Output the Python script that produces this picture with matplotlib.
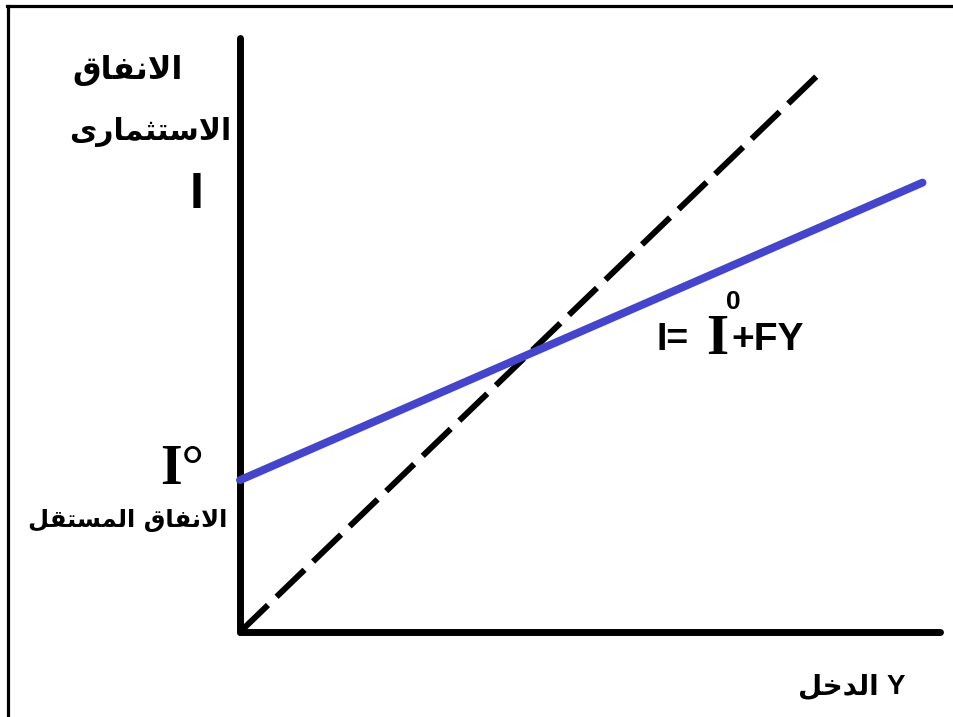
import matplotlib
matplotlib.use("Agg")
import matplotlib.pyplot as plt
from matplotlib.lines import Line2D

# Data (income Y on x, investment I on y, arbitrary units)
y_45 = [0, 8.3]
i_45 = [0, 8.0]
y_inv = [0, 9.75]
i_inv = [2.17, 6.42]

label_top1 = "الانفاق"
label_top2 = "الاستثمارى"
label_auto = "الانفاق المستقل"
label_x = "الدخل"

# small Arabic shaper (matplotlib has no complex text layout)
forms = {
    'ا': ('\uFE8D', '\uFE8E', None, None),
    'ل': ('\uFEDD', '\uFEDE', '\uFEDF', '\uFEE0'),
    'ن': ('\uFEE5', '\uFEE6', '\uFEE7', '\uFEE8'),
    'ف': ('\uFED1', '\uFED2', '\uFED3', '\uFED4'),
    'ق': ('\uFED5', '\uFED6', '\uFED7', '\uFED8'),
    'س': ('\uFEB1', '\uFEB2', '\uFEB3', '\uFEB4'),
    'ت': ('\uFE95', '\uFE96', '\uFE97', '\uFE98'),
    'ث': ('\uFE99', '\uFE9A', '\uFE9B', '\uFE9C'),
    'م': ('\uFEE1', '\uFEE2', '\uFEE3', '\uFEE4'),
    'ر': ('\uFEAD', '\uFEAE', None, None),
    'ى': ('\uFEEF', '\uFEF0', '\uFBE8', '\uFBE9'),
    'د': ('\uFEA9', '\uFEAA', None, None),
    'خ': ('\uFEA5', '\uFEA6', '\uFEA7', '\uFEA8'),
}


def joins_next(c):
    return c in forms and forms[c][2] is not None


def ar(s):
    out = []
    i = 0
    while i < len(s):
        c = s[i]
        if c not in forms:
            out.append(c)
            i += 1
            continue
        prev_j = i > 0 and joins_next(s[i - 1])
        if c == 'ل' and i + 1 < len(s) and s[i + 1] == 'ا':
            out.append('\uFEFC' if prev_j else '\uFEFB')
            i += 2
            continue
        nxt_j = joins_next(c) and i + 1 < len(s) and s[i + 1] in forms
        iso, fin, ini, med = forms[c]
        if prev_j and nxt_j:
            out.append(med)
        elif prev_j:
            out.append(fin)
        elif nxt_j:
            out.append(ini)
        else:
            out.append(iso)
        i += 1
    return ''.join(out)[::-1]


W, H = 954, 717
fig = plt.figure(figsize=(W / 100, H / 100), dpi=100)


def px(x, y):
    return x / W, 1 - y / H


# axes: origin at (240, 632) px
ax = fig.add_axes([240 / W, 85 / H, 700 / W, 594 / H])
ax.set_xlim(0, 10)
ax.set_ylim(0, 8.486)
ax.axis("off")

# axis lines
ax.plot([0, 0], [0, 8.486], color="black", lw=5, solid_capstyle="round", clip_on=False)
ax.plot([0, 10], [0, 0], color="black", lw=5, solid_capstyle="round", clip_on=False)

ax.plot(y_45, i_45, color="black", lw=4.3, dashes=(6.5, 2.0), clip_on=False)
ax.plot(y_inv, i_inv, color="#4444cc", lw=5.7, solid_capstyle="round", clip_on=False)

# frame (top and left edges visible)
fig.add_artist(Line2D([7 / W, 1], [1 - 5.5 / H] * 2, transform=fig.transFigure, color="black", lw=2.3))
fig.add_artist(Line2D([8.5 / W] * 2, [0, 1 - 5.5 / H], transform=fig.transFigure, color="black", lw=2.3))

ar_font = dict(family="DejaVu Sans", weight="bold", ha="center", va="center")
fig.text(*px(128, 70), ar(label_top1), fontsize=23, **ar_font)
fig.text(*px(150, 132), ar(label_top2), fontsize=21.5, **ar_font)
fig.text(*px(128, 520), ar(label_auto), fontsize=17.5, **ar_font)
fig.text(*px(838, 687), ar(label_x), fontsize=20, **ar_font)

sans = dict(family="Liberation Sans", weight="bold", va="center")
serif = dict(family="Liberation Serif", weight="bold", va="center")
fig.text(*px(197, 195), "I", fontsize=36, ha="center", **sans)
fig.text(*px(896, 687), "Y", fontsize=20, ha="center", **sans)
fig.text(*px(182, 470), "I°", fontsize=40, ha="center", **serif)

fig.text(*px(657, 340), "I=", fontsize=27, ha="left", **sans)
fig.text(*px(717, 340), "I", fontsize=41, ha="center", **serif)
fig.text(*px(733, 302), "0", fontsize=19, ha="center", **sans)
fig.text(*px(731, 340), "+FY", fontsize=28, ha="left", **sans)

fig.savefig("out.png", dpi=100)
